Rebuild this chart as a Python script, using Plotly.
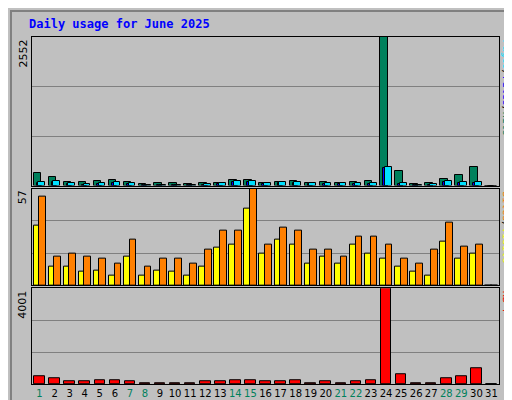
import plotly.graph_objects as go

days = list(range(1, 32))
hits = [219, 145, 58, 58, 75, 92, 58, 23, 40, 40, 23, 40, 40, 92, 92, 40, 58, 75, 40, 58, 40, 58, 75, 2552, 248, 23, 40, 110, 179, 317, 0]
files = [45, 62, 30, 15, 30, 45, 30, 12, 12, 12, 10, 15, 30, 62, 62, 30, 45, 45, 30, 30, 30, 30, 30, 300, 30, 10, 15, 62, 45, 45, 0]
pages = [58, 75, 40, 23, 40, 58, 40, 17, 17, 17, 12, 23, 40, 75, 75, 40, 58, 58, 40, 40, 40, 40, 40, 317, 40, 12, 23, 75, 58, 58, 0]
sites = [35, 11, 11, 8, 9, 6, 17, 6, 9, 8, 6, 11, 22, 24, 45, 19, 27, 24, 13, 17, 13, 24, 19, 16, 11, 8, 6, 26, 16, 19, 0]
visits = [52, 17, 19, 17, 16, 13, 27, 11, 16, 16, 13, 21, 32, 32, 57, 24, 34, 32, 21, 21, 17, 29, 29, 24, 16, 13, 21, 37, 23, 24, 0]
kbytes = [320, 247, 102, 102, 146, 146, 102, 29, 29, 29, 29, 102, 102, 146, 146, 102, 102, 146, 29, 102, 29, 102, 146, 4001, 407, 29, 29, 247, 320, 640, 0]
weekends = {1, 7, 8, 14, 15, 21, 22, 28, 29}

max_top, max_mid, max_kb = 2552, 57, 4001
BG = "#C0C0C0"
line = dict(color="black", width=1)

fig = go.Figure()
fig.add_trace(go.Bar(x=days, y=hits, marker=dict(color="#00805C", line=line), offset=-0.4, width=0.5, yaxis="y3", xaxis="x3"))
fig.add_trace(go.Bar(x=days, y=files, marker=dict(color="#0000FF", line=line), offset=-0.2, width=0.35, yaxis="y3", xaxis="x3"))
fig.add_trace(go.Bar(x=days, y=pages, marker=dict(color="#00E0FF", line=line), offset=-0.08, width=0.45, yaxis="y3", xaxis="x3"))
fig.add_trace(go.Bar(x=days, y=sites, marker=dict(color="#FFFF00", line=line), offset=-0.4, width=0.45, yaxis="y2", xaxis="x2"))
fig.add_trace(go.Bar(x=days, y=visits, marker=dict(color="#FF8000", line=line), offset=-0.02, width=0.45, yaxis="y2", xaxis="x2"))
fig.add_trace(go.Bar(x=days, y=kbytes, marker=dict(color="#FF0000", line=line), offset=-0.35, width=0.7, yaxis="y", xaxis="x"))

ticktext = [f"<span style='color:#00805C'>{d}</span>" if d in weekends else str(d) for d in days]
xbase = dict(range=[0.5, 31.5], showgrid=False, zeroline=False, showline=True, linecolor="black",
             mirror=True, fixedrange=True, automargin=False)

def yax(mx, dom, anchor):
    return dict(domain=dom, range=[0, mx * 1.0], tickvals=[mx / 3, 2 * mx / 3], showticklabels=False,
                ticks="", gridcolor="#808080", gridwidth=1, zeroline=False, showline=True,
                linecolor="black", mirror=True, anchor=anchor, automargin=False)

fig.update_layout(
    width=512, height=400, showlegend=False, barmode="overlay",
    paper_bgcolor=BG, plot_bgcolor=BG,
    margin=dict(l=24, r=21, t=29, b=24, autoexpand=False),
    font=dict(family="DejaVu Sans Mono", size=11, color="black"),
    xaxis=dict(xbase, anchor="y", tickvals=days, ticktext=ticktext, ticks="", tickangle=0,
               tickfont=dict(family="DejaVu Sans", size=10)),
    xaxis2=dict(xbase, anchor="y2", showticklabels=False, matches="x"),
    xaxis3=dict(xbase, anchor="y3", showticklabels=False, matches="x"),
    yaxis=yax(max_kb, [0, 0.276], "x"),
    yaxis2=yax(max_mid, [0.284, 0.563], "x2"),
    yaxis3=yax(max_top, [0.572, 1.0], "x3"),
    bargap=0,
)

fig.add_annotation(text="<b>Daily usage for June 2025</b>", x=-0.01, y=1.0, xref="paper", yref="paper",
                   xanchor="left", yanchor="bottom", showarrow=False, yshift=4,
                   font=dict(family="DejaVu Sans Mono", size=12, color="#0000FF"))
for val, ytop in [(max_top, 1.0), (max_mid, 0.563), (max_kb, 0.276)]:
    fig.add_annotation(text=str(val), x=0, y=ytop, xref="paper", yref="paper", xanchor="right", yanchor="top",
                       textangle=-90, showarrow=False, xshift=-1, font=dict(family="DejaVu Sans", size=11))
side = [
    ("<span style='color:#00E0FF'>Pages</span>/<span style='color:#0000FF'>Files</span>/<span style='color:#00805C'>Hits</span>", 1.0),
    ("<span style='color:#FF8000'>Sites</span>/<span style='color:#FFFF00'>Visits</span>", 0.563),
    ("<span style='color:#FF0000'>KB F</span>", 0.276),
]
for txt, ytop in side:
    fig.add_annotation(text=txt, x=1, y=ytop, xref="paper", yref="paper", xanchor="left", yanchor="top",
                       textangle=90, showarrow=False, xshift=0, font=dict(family="DejaVu Sans Mono", size=10))
fig.add_shape(type="rect", xref="paper", yref="paper", x0=-0.045, x1=1.039, y0=-0.058, y1=1.075,
              line=dict(color="#808080", width=2))
fig.write_html("out.html")
